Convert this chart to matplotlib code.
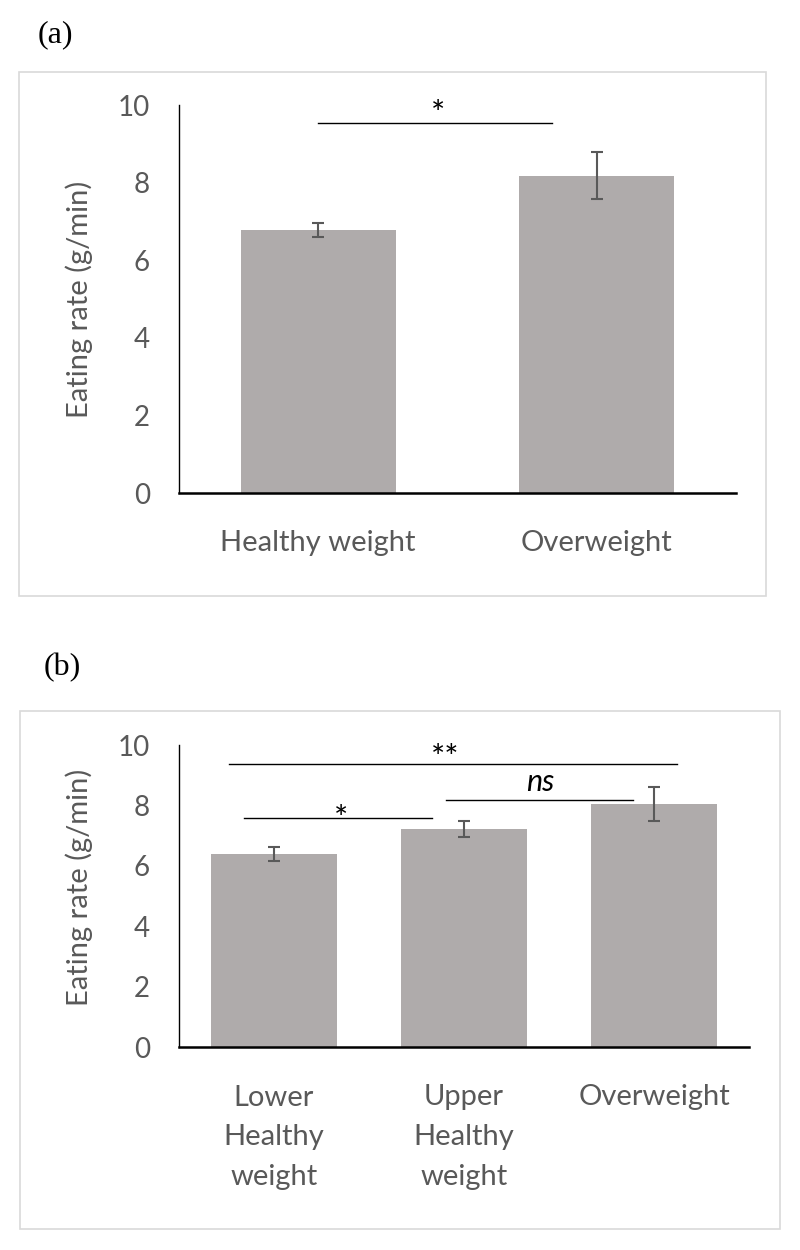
import matplotlib
matplotlib.use('Agg')
import matplotlib.pyplot as plt
from matplotlib.patches import Rectangle

# panel (a)
groups_a = ['Healthy weight', 'Overweight']
means_a = [6.78, 8.18]
errs_a = [0.17, 0.60]

# panel (b)
groups_b = ['Lower\nHealthy\nweight', 'Upper\nHealthy\nweight', 'Overweight']
means_b = [6.40, 7.22, 8.04]
errs_b = [0.225, 0.255, 0.565]

yticks = [0, 2, 4, 6, 8, 10]

bar_color = '#AFABAB'
text_gray = '#595959'
font = ['Lato', 'DejaVu Sans']

fig = plt.figure(figsize=(8, 12.5), dpi=100)

# light grey frames around each chart
fig.patches.append(Rectangle((0.024, 0.5232), 0.933, 0.4192, transform=fig.transFigure,
                             fill=False, edgecolor='#D9D9D9', linewidth=1.2))
fig.patches.append(Rectangle((0.025, 0.0168), 0.950, 0.4144, transform=fig.transFigure,
                             fill=False, edgecolor='#D9D9D9', linewidth=1.2))

fig.text(0.069, 0.972, '(a)', family='Liberation Serif', fontsize=23, ha='center', va='center')
fig.text(0.078, 0.466, '(b)', family='Liberation Serif', fontsize=23, ha='center', va='center')

ax1 = fig.add_axes([0.22375, 0.6056, 0.69625, 0.3104])
ax2 = fig.add_axes([0.22375, 0.1624, 0.7125, 0.2416])


def style(ax, n, labels, ylab_x, ylab_y):
    ax.set_xlim(0, n)
    ax.set_ylim(0, 10)
    ax.set_yticks(yticks)
    ax.set_yticklabels([str(t) for t in yticks], family=font, fontsize=20, color=text_gray)
    ax.set_xticks([i + 0.5 for i in range(n)])
    ax.set_xticklabels(labels, family=font, fontsize=21, color=text_gray, linespacing=1.65)
    ax.tick_params(axis='y', length=0, pad=21)
    ax.tick_params(axis='x', length=0, pad=27)
    ax.spines['top'].set_visible(False)
    ax.spines['right'].set_visible(False)
    ax.spines['left'].set_linewidth(1.0)
    ax.spines['bottom'].set_linewidth(1.8)
    ax.set_ylabel('Eating rate (g/min)', family=font, fontsize=21, color=text_gray)
    ax.yaxis.set_label_coords(ylab_x, ylab_y)


def sig(ax, x0, x1, y, label, tx, ty, size=24, italic=False):
    ax.plot([x0, x1], [y, y], color='black', linewidth=1.0, clip_on=False)
    ax.text(tx, ty, label, ha='center', va='baseline', family=font, fontsize=size,
            style='italic' if italic else 'normal', clip_on=False)


x_a = [i + 0.5 for i in range(len(groups_a))]
ax1.bar(x_a, means_a, width=0.555, color=bar_color)
ax1.errorbar(x_a, means_a, yerr=errs_a, fmt='none', ecolor=text_gray, elinewidth=1.5,
             capsize=4.5, capthick=1.5)
style(ax1, len(groups_a), groups_a, -0.154, 0.5)
sig(ax1, 0.5, 1.34, 9.54, '*', 0.93, 9.50)

x_b = [i + 0.5 for i in range(len(groups_b))]
ax2.bar(x_b, means_b, width=0.66, color=bar_color)
ax2.errorbar(x_b, means_b, yerr=errs_b, fmt='none', ecolor=text_gray, elinewidth=1.5,
             capsize=4.5, capthick=1.5)
style(ax2, len(groups_b), groups_b, -0.151, 0.53)
sig(ax2, 0.264, 2.62, 9.38, '**', 1.40, 9.25)
sig(ax2, 1.407, 2.39, 8.18, 'ns', 1.90, 8.48, size=22, italic=True)
sig(ax2, 0.342, 1.33, 7.58, '*', 0.853, 7.22)

fig.savefig('out.png', dpi=100)
